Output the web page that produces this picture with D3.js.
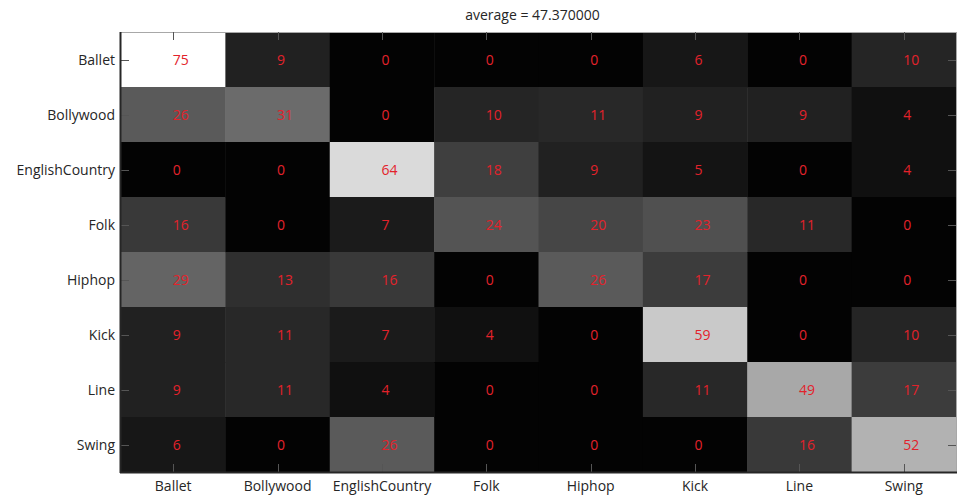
<!DOCTYPE html>
<html><head><meta charset="utf-8">
<script src="https://cdn.jsdelivr.net/npm/d3@7"></script>
<style>body{margin:0;background:#fff;} text{font-family:"Open Sans",sans-serif;}</style>
</head><body>
<svg id="c" width="959" height="497"></svg>
<script>
const classes = ["Ballet","Bollywood","EnglishCountry","Folk","Hiphop","Kick","Line","Swing"];
const matrix = [
  [75, 9, 0, 0, 0, 6, 0,10],
  [26,31, 0,10,11, 9, 9, 4],
  [ 0, 0,64,18, 9, 5, 0, 4],
  [16, 0, 7,24,20,23,11, 0],
  [29,13,16, 0,26,17, 0, 0],
  [ 9,11, 7, 4, 0,59, 0,10],
  [ 9,11, 4, 0, 0,11,49,17],
  [ 6, 0,26, 0, 0, 0,16,52]
];
const titleText = "average = 47.370000";

const svg = d3.select("#c");
const m = {l:121, t:32, r:956, b:472};
const x = d3.scaleBand().domain(classes).range([m.l, m.r]);
const y = d3.scaleBand().domain(classes).range([m.t, m.b]);
const maxV = d3.max(matrix.flat());
const g = d3.scaleLinear().domain([0, maxV]).range([3, 255]).clamp(true);

const cells = [];
matrix.forEach((row,i)=>row.forEach((v,j)=>cells.push({r:classes[i], c:classes[j], v})));

svg.append("g").selectAll("rect").data(cells).join("rect")
  .attr("x", d=>x(d.c)).attr("y", d=>y(d.r))
  .attr("width", x.bandwidth()+0.5).attr("height", y.bandwidth()+0.5)
  .attr("fill", d=>{const k=Math.round(g(d.v)); return `rgb(${k},${k},${k})`;});

svg.append("g").selectAll("text").data(cells).join("text")
  .attr("x", d=>x(d.c)+x.bandwidth()/2 - 0.5)
  .attr("y", d=>y(d.r)+y.bandwidth()/2)
  .attr("dy","0.38em")
  .attr("fill","#e3222b").attr("font-size","14px")
  .text(d=>d.v);

// frame: top/right light
svg.append("line").attr("x1",m.l).attr("x2",m.r).attr("y1",m.t+0.5).attr("y2",m.t+0.5).attr("stroke","#a8a8a8");
svg.append("line").attr("x1",m.r+0.5).attr("x2",m.r+0.5).attr("y1",m.t).attr("y2",m.b).attr("stroke","#a8a8a8");

// ticks (inside)
const tl = 8;
const tickG = svg.append("g").attr("stroke-width",1);
classes.forEach(c=>{
  const cx = Math.round(x(c)+x.bandwidth()/2)+0.5;
  const cy = Math.round(y(c)+y.bandwidth()/2)+0.5;
  tickG.append("line").attr("x1",cx).attr("x2",cx).attr("y1",m.t).attr("y2",m.t+tl).attr("stroke","#555");
  tickG.append("line").attr("x1",cx).attr("x2",cx).attr("y1",m.b).attr("y2",m.b-tl).attr("stroke","#555");
  tickG.append("line").attr("x1",m.l).attr("x2",m.l+tl).attr("y1",cy).attr("y2",cy).attr("stroke","#555");
  tickG.append("line").attr("x1",m.r).attr("x2",m.r-tl).attr("y1",cy).attr("y2",cy).attr("stroke","#555");
});

// bottom/left dark axis lines
svg.append("line").attr("x1",m.l-1).attr("x2",m.r+1).attr("y1",m.b+0.5).attr("y2",m.b+0.5).attr("stroke","#262626").attr("stroke-width",2);
svg.append("line").attr("x1",m.l-0.5).attr("x2",m.l-0.5).attr("y1",m.t).attr("y2",m.b+1).attr("stroke","#262626").attr("stroke-width",2);

// labels
svg.append("g").selectAll("text").data(classes).join("text")
  .attr("x", d=>x(d)+x.bandwidth()/2).attr("y", 491)
  .attr("text-anchor","middle").attr("font-size","14px").attr("fill","#262626")
  .text(d=>d);
svg.append("g").selectAll("text").data(classes).join("text")
  .attr("x", 115).attr("y", d=>y(d)+y.bandwidth()/2).attr("dy","0.4em")
  .attr("text-anchor","end").attr("font-size","14px").attr("fill","#262626")
  .text(d=>d);

svg.append("text").attr("x",(m.l+m.r)/2-6).attr("y",20)
  .attr("text-anchor","middle").attr("font-size","14px").attr("fill","#262626")
  .text(titleText);
</script>
</body></html>
